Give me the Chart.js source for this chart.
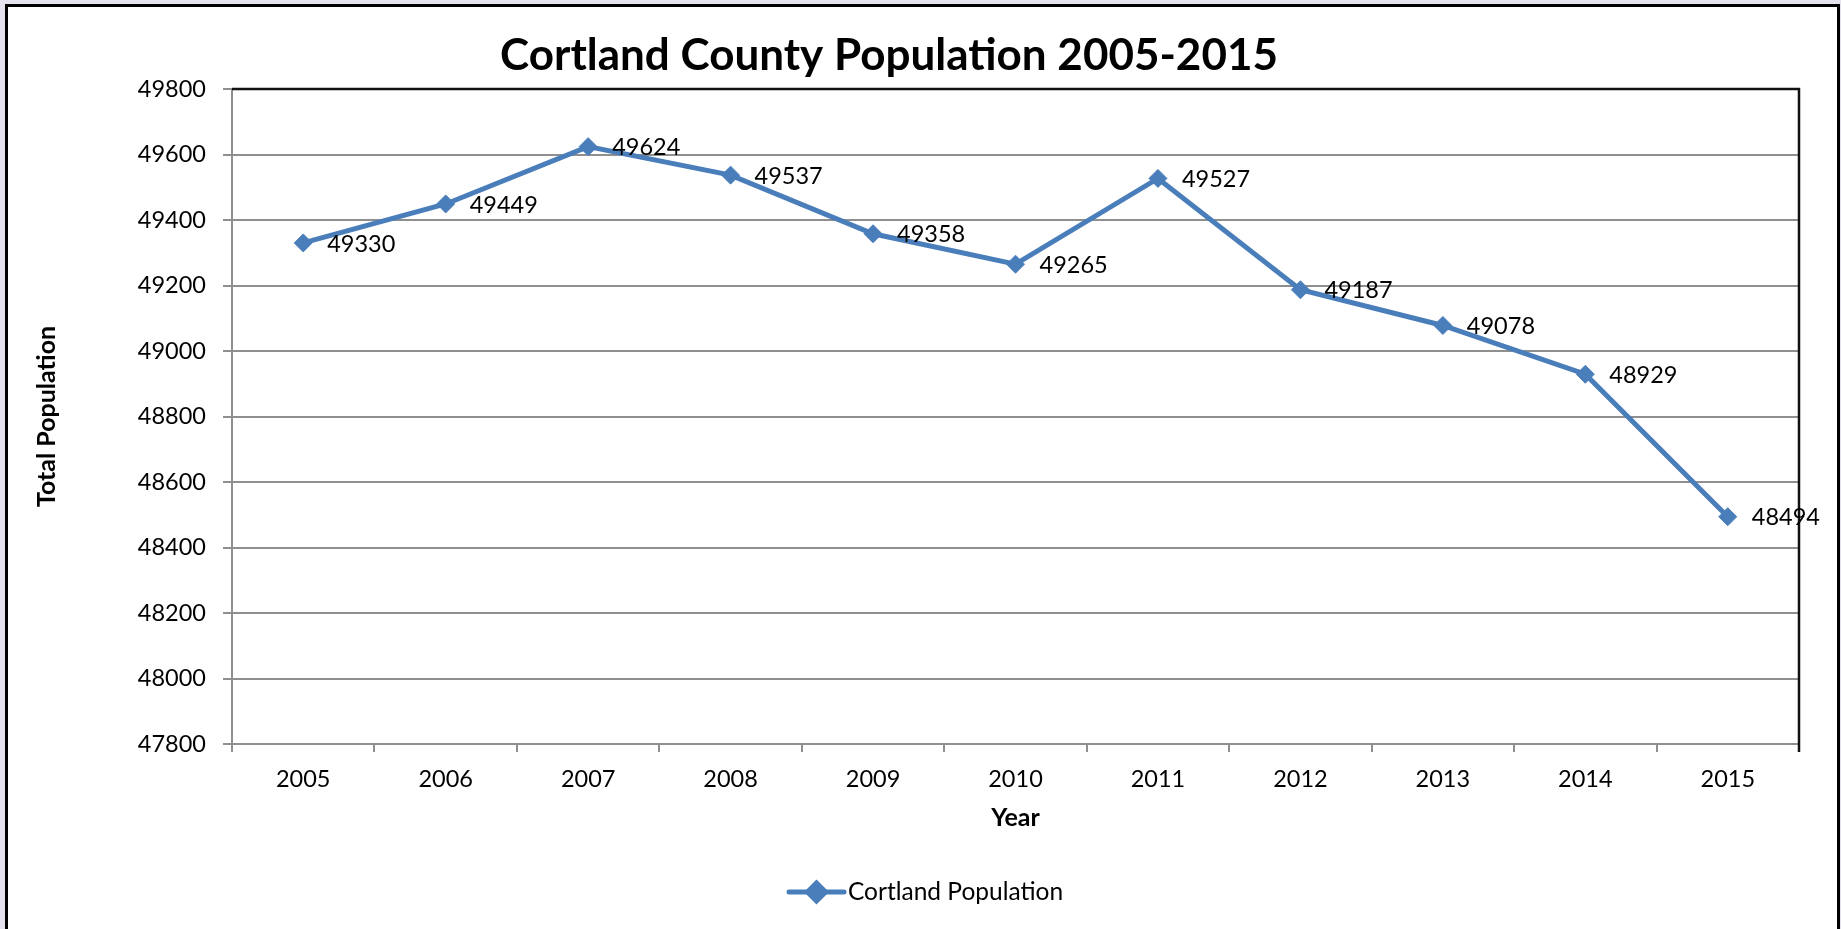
<!DOCTYPE html>
<html>
<head>
<meta charset="utf-8">
<title>Cortland County Population 2005-2015</title>
<script src="https://cdn.jsdelivr.net/npm/chart.js@4/dist/chart.umd.min.js"></script>
<style>
    html, body {
        margin: 0;
        padding: 0;
        background: #e5e1ed;
        overflow: hidden;
    }
    .frame {
        position: absolute;
        left: 5px;
        top: 4px;
        width: 1829px;
        height: 1000px;
        border: 3px solid #000;
        background: #fff;
    }
    #chart {
        position: absolute;
        left: 0;
        top: 0;
    }
</style>
</head>
<body>
<div class="frame"></div>
<canvas id="chart" width="1841" height="929"></canvas>
<script>
const years = ["2005", "2006", "2007", "2008", "2009", "2010", "2011", "2012", "2013", "2014", "2015"];
const population = [49330, 49449, 49624, 49537, 49358, 49265, 49527, 49187, 49078, 48929, 48494];
const seriesName = "Cortland Population";
const chartTitle = "Cortland County Population 2005-2015";
const yMin = 47800;
const yMax = 49800;
const yStep = 200;

const lineColor = "#4a7ebb";
const gridColor = "#8f8f8f";
const fontFamily = "Lato, 'Open Sans', sans-serif";

// title sits a little left of the canvas centre, so it is drawn by hand
const chartHeading = {
    id: "chartHeading",
    afterDraw(chart) {
        const { ctx } = chart;
        ctx.save();
        ctx.font = `bold 44px ${fontFamily}`;
        ctx.fillStyle = "#000";
        ctx.textAlign = "center";
        ctx.textBaseline = "middle";
        ctx.fillText(chartTitle, 889, 56);
        ctx.restore();
    }
};

// value labels to the right of each point
const pointLabels = {
    id: "pointLabels",
    afterDatasetsDraw(chart) {
        const { ctx } = chart;
        const meta = chart.getDatasetMeta(0);
        ctx.save();
        ctx.font = `23.5px ${fontFamily}`;
        ctx.fillStyle = "#000";
        ctx.textAlign = "left";
        ctx.textBaseline = "middle";
        meta.data.forEach((point, i) => {
            ctx.fillText(String(chart.data.datasets[0].data[i]), point.x + 24, point.y + 1);
        });
        ctx.restore();
    }
};

// black top / right edge of the plot area
const plotFrame = {
    id: "plotFrame",
    beforeDatasetsDraw(chart) {
        const { ctx, chartArea } = chart;
        ctx.save();
        ctx.strokeStyle = "#111";
        ctx.lineWidth = 2.5;
        ctx.beginPath();
        ctx.moveTo(chartArea.left, chartArea.top);
        ctx.lineTo(chartArea.right, chartArea.top);
        ctx.lineTo(chartArea.right, chartArea.bottom + 8);
        ctx.stroke();
        ctx.restore();
    }
};

// line-with-diamond legend under the x axis title
const lineLegend = {
    id: "lineLegend",
    afterDraw(chart) {
        const { ctx } = chart;
        const ds = chart.data.datasets[0];
        const y = 892;
        const x0 = 789;
        const x1 = 844;
        ctx.save();
        ctx.strokeStyle = ds.borderColor;
        ctx.lineWidth = 5;
        ctx.lineCap = "round";
        ctx.beginPath();
        ctx.moveTo(x0, y);
        ctx.lineTo(x1, y);
        ctx.stroke();
        Chart.helpers.drawPoint(ctx, {
            pointStyle: "rectRot",
            radius: 9,
            borderWidth: 1
        }, (x0 + x1) / 2, y);
        ctx.fillStyle = ds.borderColor;
        ctx.fill();
        ctx.font = `24.5px ${fontFamily}`;
        ctx.fillStyle = "#000";
        ctx.textAlign = "left";
        ctx.textBaseline = "middle";
        ctx.fillText(ds.label, x1 + 4, y);
        ctx.restore();
    }
};

new Chart(document.getElementById("chart"), {
    type: "line",
    data: {
        labels: years,
        datasets: [{
            label: seriesName,
            data: population,
            borderColor: lineColor,
            backgroundColor: lineColor,
            borderWidth: 5,
            tension: 0,
            pointStyle: "rectRot",
            pointRadius: 9,
            pointHoverRadius: 9,
            pointBorderWidth: 1,
            pointBackgroundColor: lineColor,
            pointBorderColor: lineColor
        }]
    },
    options: {
        responsive: false,
        animation: false,
        events: [],
        layout: {
            padding: { left: 0, right: 42, top: 89, bottom: 96 }
        },
        plugins: {
            legend: { display: false },
            tooltip: { enabled: false },
            title: { display: false }
        },
        scales: {
            x: {
                type: "category",
                offset: true,
                afterFit: (scale) => { scale.height = 89; },
                grid: {
                    offset: true,
                    drawOnChartArea: false,
                    drawTicks: true,
                    tickLength: 8,
                    color: gridColor,
                    lineWidth: 2
                },
                border: { color: gridColor, width: 2 },
                ticks: {
                    color: "#000",
                    padding: 13,
                    maxRotation: 0,
                    font: { family: fontFamily, size: 23.5 }
                },
                title: {
                    display: true,
                    text: "Year",
                    color: "#000",
                    font: { family: fontFamily, size: 25, weight: "bold" },
                    padding: { top: 0, bottom: 0 }
                }
            },
            y: {
                min: yMin,
                max: yMax,
                afterFit: (scale) => { scale.width = 232; },
                grid: {
                    color: gridColor,
                    lineWidth: 2,
                    tickLength: 9
                },
                border: { color: gridColor, width: 2 },
                ticks: {
                    stepSize: yStep,
                    color: "#000",
                    padding: 17,
                    font: { family: fontFamily, size: 23.5 },
                    callback: (value) => String(value)
                },
                title: {
                    display: true,
                    text: "Total Population",
                    color: "#000",
                    font: { family: fontFamily, size: 25, weight: "bold" },
                    padding: { top: 32, bottom: 0 }
                }
            }
        }
    },
    plugins: [plotFrame, pointLabels, lineLegend, chartHeading]
});
</script>
</body>
</html>
